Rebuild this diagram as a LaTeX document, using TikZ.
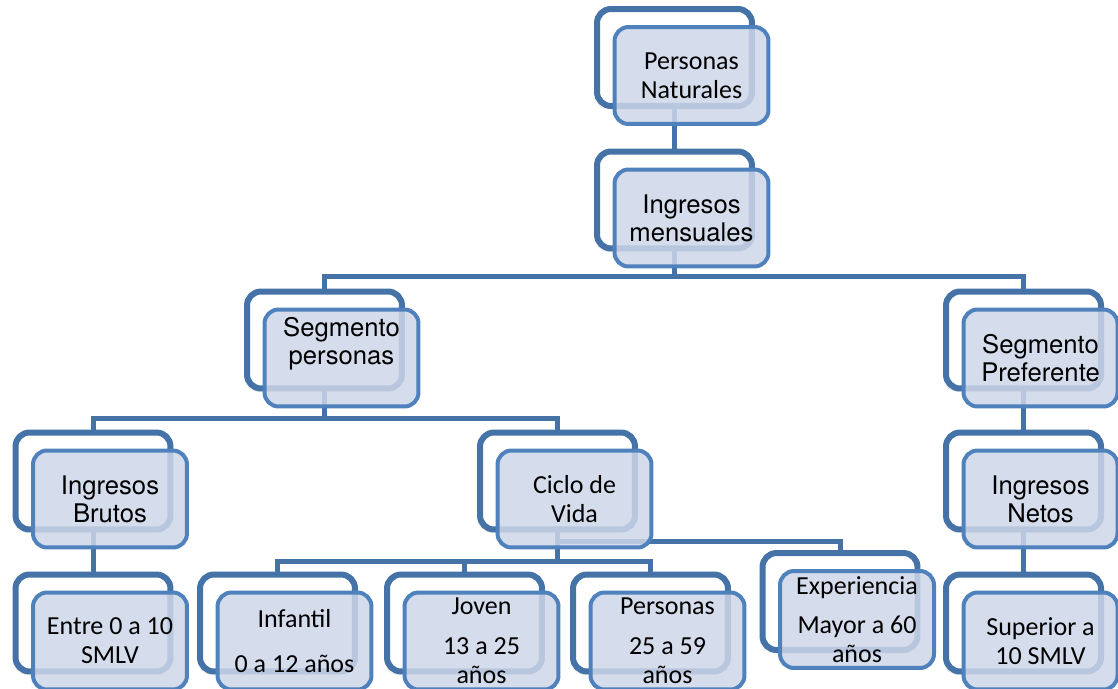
\documentclass[tikz,border=0pt]{standalone}
\usepackage{fontspec}
\newfontfamily\carlito{Carlito}
\newfontfamily\headfont{TeX Gyre Heros}
\usetikzlibrary{shadows}
\definecolor{backblue}{RGB}{69,114,167}
\definecolor{frontblue}{RGB}{79,129,189}
\definecolor{frontfill}{RGB}{206,214,232}
\pgfdeclarelayer{background}
\pgfsetlayers{background,main}

\begin{document}
\begin{tikzpicture}[x=0.02cm,y=-0.02cm,
  backbox/.style={draw=backblue, line width=0.12cm, fill=white, rounded corners=0.28cm,
    minimum width=3.1cm, minimum height=1.94cm, inner sep=0pt,
    drop shadow={opacity=0.12, shadow xshift=-1.5pt, shadow yshift=-2pt}},
  frontbox/.style={draw=frontblue, line width=0.08cm, fill=frontfill, fill opacity=0.85,
    text opacity=1, rounded corners=0.28cm, minimum width=3.08cm, minimum height=1.94cm,
    inner sep=0pt, align=center},
  calib/.style={font=\carlito\fontsize{14.8}{16.5}\selectfont},
  headtext/.style={font=\headfont\fontsize{14.6}{16}\selectfont},
  link/.style={draw=backblue, line width=0.1cm}]
\useasboundingbox (0,0) rectangle (1118,689);

% define the boxes of the chart
  \node[backbox]  (bPN)  at (674.5,57.5) {};
  \node[frontbox, calib] (fPN) at ([shift={(17,18)}]bPN) {Personas\\Naturales};

  \node[backbox]  (bIM)  at (674.5,200) {};
  \node[frontbox, headtext] (fIM) at ([shift={(17,18)}]bIM) {Ingresos\\mensuales};

  \node[backbox]  (bSP)  at (324.5,340) {};
  \node[frontbox] (fSP)  at ([shift={(17,18)}]bSP) {};
  \node[headtext, align=center] (tSP) at ([shift={(0,-14)}]fSP) {Segmento\\personas};

  \node[backbox]  (bSPr) at (1023.5,340) {};
  \node[frontbox, headtext] (fSPr) at ([shift={(17,18)}]bSPr) {Segmento\\Preferente};

  \node[backbox]  (bIB)  at (93,481) {};
  \node[frontbox, headtext] (fIB) at ([shift={(17,18)}]bIB) {Ingresos\\Brutos};

  \node[backbox]  (bCV)  at (557.5,481) {};
  \node[frontbox, calib] (fCV) at ([shift={(17,18)}]bCV) {Ciclo de\\Vida};

  \node[backbox]  (bIN)  at (1023.5,481) {};
  \node[frontbox, headtext] (fIN) at ([shift={(17,18)}]bIN) {Ingresos\\Netos};

% leaves
  \node[backbox]  (bEN)  at (93,623) {};
  \node[frontbox, calib] (fEN) at ([shift={(17,18)}]bEN) {Entre 0 a 10\\SMLV};

  \node[backbox]  (bINF) at (277.5,623) {};
  \node[frontbox, calib] (fINF) at ([shift={(17,18)}]bINF) {Infantil\\[9pt]0 a 12 años};

  \node[backbox]  (bJOV) at (464.5,623) {};
  \node[frontbox, calib] (fJOV) at ([shift={(17,18)}]bJOV) {Joven\\[6pt]13 a 25\\años};

  \node[backbox]  (bPER) at (650.5,623) {};
  \node[frontbox, calib] (fPER) at ([shift={(17,18)}]bPER) {Personas\\[6pt]25 a 59\\años};

  \node[backbox]  (bEXP) at (840,601.5) {};
  \node[frontbox, calib] (fEXP) at ([shift={(17,18)}]bEXP) {Experiencia\\[6pt]Mayor a 60\\años};

  \node[backbox]  (bSUP) at (1023.5,623) {};
  \node[frontbox, calib] (fSUP) at ([shift={(17,18)}]bSUP) {Superior a\\10 SMLV};

% define the links
  \coordinate (rowA) at (0,276);
  \coordinate (rowB) at (0,418);
  \coordinate (rowC) at (0,561);
  \coordinate (rowD) at (0,541);
  \begin{pgfonlayer}{background}
    \path[link] (bPN.south) -- (bIM.north);
    \path[link] (bIM.south) -- (bIM.south |- rowA) -| (bSP.north);
    \path[link] (bIM.south |- rowA) -| (bSPr.north);
    \path[link] (bSP.south) -- (bSP.south |- rowB) -| (bIB.north);
    \path[link] (bSP.south |- rowB) -| (bCV.north);
    \path[link] (bSPr.south) -- (bIN.north);
    \path[link] (bIB.south) -- (bEN.north);
    \path[link] (bIN.south) -- (bSUP.north);
    \path[link] (bCV.south) -- (bCV.south |- rowC) -| (bINF.north);
    \path[link] (bCV.south |- rowC) -| (bPER.north);
    \path[link] (bJOV.north) -- (bJOV.north |- rowC);
    \path[link] (bCV.south |- rowD) -| (bEXP.north);
  \end{pgfonlayer}
\end{tikzpicture}
\end{document}
